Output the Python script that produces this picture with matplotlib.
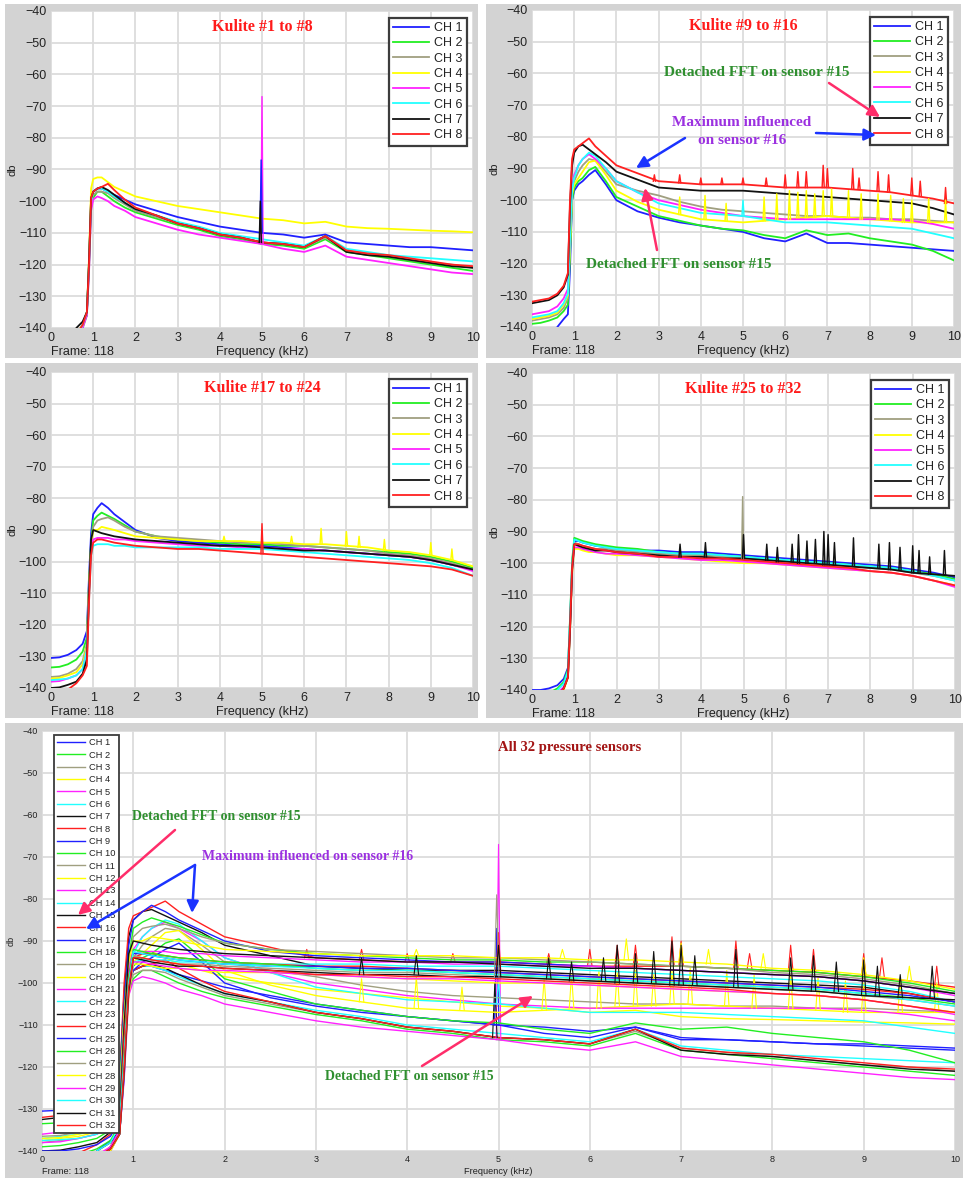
import numpy as np
import matplotlib
matplotlib.use('Agg')
import matplotlib.pyplot as plt
from matplotlib.patches import Rectangle, FancyArrowPatch

plt.rcParams['font.family'] = ['Liberation Sans', 'DejaVu Sans']

W, H = 963, 1178

# ---------------- data ----------------
freq_khz = [0, 0.2, 0.4, 0.6, 0.75, 0.85, 0.9, 0.95, 1.0, 1.1, 1.2, 1.35, 1.5, 1.75,
            2, 2.5, 3, 3.5, 4, 4.5, 5, 5.5, 6, 6.5, 7, 7.5, 8, 8.5, 9, 9.5, 10]

kulite_01_08 = [
    [-150, -150, -150, -143, -139, -136, -120, -100, -97, -96, -96, -97, -98, -99.5, -101, -103, -105, -106.5, -108, -109, -110, -110.5, -111.5, -110.5, -113, -113.5, -114, -114.5, -114.5, -115, -115.5],
    [-150, -150, -150, -143, -140, -136, -122, -102, -99, -97, -97, -98.5, -100, -102, -103.5, -105.5, -107.5, -109, -111, -112, -113.5, -114, -115, -112, -116, -117, -118, -119, -120, -121, -122],
    [-150, -150, -150, -142, -139, -135, -121, -101, -98, -97, -97, -97.5, -99, -101, -103, -105, -107, -108.5, -110.5, -111.5, -113, -113.5, -114.5, -111.5, -115.5, -116.5, -117.5, -118.5, -119.5, -120, -121],
    [-150, -150, -150, -142, -139, -135, -118, -96, -93, -92.5, -92.5, -94, -95.5, -97, -98.5, -100, -101.5, -102.5, -103.5, -104.5, -105.5, -106, -107, -106.5, -108, -108.5, -108.7, -109, -109.3, -109.5, -109.8],
    [-150, -150, -150, -143, -140, -136, -123, -103, -99.5, -98.5, -99, -100, -101.5, -103, -105, -107, -109, -110.5, -111.5, -112.5, -113.5, -115, -116, -114, -117.5, -118.5, -119.5, -120.5, -121.5, -122.5, -123],
    [-150, -150, -150, -143, -139, -135, -120, -100, -97, -96, -96, -97, -98.5, -100.5, -102.5, -104.5, -106.5, -108, -110, -111, -112, -113, -114, -111, -115, -116, -117, -117.5, -118, -118.5, -119],
    [-150, -150, -150, -140, -138, -135, -119, -99, -97, -96, -95.5, -96.5, -98, -100.5, -102.5, -104.5, -107, -108.5, -110.5, -111.5, -113, -113.5, -114.5, -111, -116, -117, -117.5, -118.5, -119.5, -120.5, -121],
    [-150, -150, -150, -142, -139, -135, -120, -99, -97, -96, -95.5, -94.5, -96.5, -99.5, -102, -104.5, -107, -108.5, -110.5, -111.5, -113, -113.5, -114.5, -111, -115.5, -116.5, -117, -118, -119, -120, -120.5],
]

kulite_09_16 = [
    [-150, -150, -150, -140, -137.5, -136, -122, -100, -97, -95, -94, -92, -90.5, -95, -100, -103.5, -105.5, -107, -108, -109, -110, -112, -113, -110.5, -113.5, -113.5, -114, -114.5, -115, -115.5, -116],
    [-139, -138.7, -138, -137, -135, -133, -118, -100, -96, -94, -93, -90.5, -89.5, -94, -99, -102, -105, -106.5, -108, -109, -109.5, -111, -112, -109.5, -111, -110.5, -112, -113, -114, -116, -119],
    [-138, -137.5, -137, -136, -134, -131, -113, -98, -94, -91, -89, -87, -87.5, -91, -95, -97, -98.5, -100.5, -102, -103, -103.5, -104, -104.5, -105, -105, -105.5, -105.5, -106, -106, -106.5, -107],
    [-137.5, -137, -136.5, -135.5, -133, -130, -115, -98, -95, -93, -91, -88, -87.5, -92, -97, -100.5, -103, -104.5, -106, -106.5, -107, -106.5, -106, -105.5, -105, -105.5, -106, -106.5, -107, -107, -107],
    [-136, -135.5, -135, -133.5, -131, -128, -110, -96, -92, -89, -87, -85.5, -87, -90, -94, -97.5, -100, -101.5, -103, -104, -105, -105.5, -106, -106, -106, -106, -106, -106, -106.5, -107.5, -109],
    [-137, -136.5, -136, -135, -132.5, -129.5, -112, -97, -93, -89, -87, -85, -86, -90, -94, -97.5, -101, -102.5, -104, -104.5, -105, -106, -107, -107, -107, -107.5, -108, -108.5, -109, -110.5, -112],
    [-132.5, -132, -131.5, -130, -127.5, -123.5, -102, -89, -85, -83, -82.5, -84, -85.5, -88, -91, -93.5, -96, -96.5, -97, -97, -97, -97.5, -98, -98.5, -99, -99.5, -100, -100.5, -101, -102.5, -104.5],
    [-132, -131.5, -131, -129.5, -127, -123, -100, -87, -84, -83, -82, -80.5, -83, -86, -89, -91.5, -94, -94.5, -95, -95, -95, -95.5, -96, -96, -96, -96.5, -97, -97.5, -98.5, -99.5, -101],
]

kulite_17_24 = [
    [-130.5, -130.3, -129.5, -128, -126, -122, -105, -91, -85, -83, -81.5, -83, -85, -87.5, -90, -92.5, -93.5, -94, -94.5, -95, -95, -95.5, -96, -96.5, -97, -97.5, -98, -98.5, -99.5, -101, -102.5],
    [-133.5, -133.3, -132.5, -131, -128.5, -124, -107, -94, -87, -85.5, -84.5, -85.5, -86.5, -88.5, -90.5, -92, -93, -93.5, -94, -94.5, -94.5, -95, -95, -95.5, -96, -96.5, -97, -97.5, -98.5, -100, -102],
    [-136.5, -136.3, -135.5, -134, -131.5, -126, -108, -95, -89, -87, -86.5, -86, -87, -89, -90.5, -92, -92.5, -93, -93.5, -94, -94, -94.5, -95, -95.5, -96, -96.5, -97.5, -98, -99, -100.5, -102.5],
    [-137, -136.8, -136, -135, -132.5, -127, -108, -95, -90, -90, -89, -89.5, -90, -91, -92, -92.5, -93, -93.5, -93.5, -93.5, -94, -94, -94.5, -94.5, -95, -95.5, -96.5, -97, -98, -99.5, -101.5],
    [-138, -137.8, -137, -136, -134, -128, -110, -97, -93, -92.5, -92.5, -92.5, -93, -93, -93.5, -94, -94.5, -95, -95, -95.5, -95.5, -96, -96, -96.5, -97, -97.5, -98, -98.5, -99.5, -101, -103],
    [-137.5, -137.3, -137, -136, -134, -128, -112, -98, -95, -94.5, -94.5, -94.5, -95, -95, -95.5, -95.5, -95.5, -95.5, -96, -96, -96, -96.5, -97, -97.5, -98, -98.5, -99, -99.5, -100.5, -102, -104.5],
    [-140, -139.8, -139, -138, -135.5, -131, -110, -93, -90, -90.5, -91, -91.5, -92, -92.5, -93, -93.5, -94, -94.5, -95, -95, -95.5, -96, -96.5, -96.5, -97, -97.5, -98, -98.5, -99.5, -101, -102.5],
    [-150, -150, -140.5, -138.5, -136, -133, -113, -98, -94, -93, -93, -93.5, -94, -94.5, -95, -95.5, -96, -96, -96.5, -97, -97.5, -98, -98.5, -99, -99.5, -100, -100.5, -101, -101.5, -102.5, -104.5],
]

kulite_25_32 = [
    [-140, -140, -139.5, -138.5, -136.5, -133, -118, -100, -93, -93, -93.5, -94, -94.5, -95, -95.5, -96, -96, -96.5, -96.5, -97, -97.5, -98, -98.5, -99, -99.5, -100, -100.5, -101, -102, -103, -104.5],
    [-150, -150, -141, -139.5, -137.5, -133.5, -117, -99, -92, -92.5, -93, -93.5, -94, -94.5, -95, -95.5, -96.5, -97, -97, -97.5, -98, -98.5, -99, -99.5, -100, -100.5, -101, -101.5, -102.5, -103.5, -105],
    [-150, -150, -150, -142, -139.5, -135.5, -120, -101, -93.5, -94, -94.5, -95, -95.5, -95.5, -96, -96.5, -97, -97.5, -97.5, -98, -98.5, -99, -99.5, -100, -100.5, -101, -101.5, -102, -103, -104, -105.5],
    [-150, -150, -150, -142, -140, -136, -121, -103, -95.5, -95.5, -96, -96.5, -96.5, -97, -97.5, -97.5, -98, -98.5, -99, -99.5, -100, -100, -100.5, -101, -101.5, -102, -102.5, -103, -104, -105.5, -107],
    [-150, -150, -150, -141, -139, -135, -120, -102, -95, -95, -95.5, -96, -96.5, -97, -97, -97.5, -98, -98.5, -99, -99, -99.5, -100, -100.5, -101, -101.5, -102, -102.5, -103, -104, -105.5, -107.5],
    [-150, -150, -150, -140, -138, -134, -118, -100, -92.5, -93, -93.5, -94, -94.5, -95, -95.5, -96, -96.5, -97, -97, -97.5, -98, -98.5, -99, -99.5, -100, -100.5, -101, -101.5, -102.5, -104, -105.5],
    [-150, -150, -150, -142, -139.5, -136, -121, -102, -94, -94.5, -95, -95.5, -96, -96, -96.5, -97, -97.5, -98, -98, -98.5, -98.5, -99, -99.5, -100, -100.5, -101, -101.5, -102, -103, -103.5, -104],
    [-150, -150, -150, -142, -139.5, -136, -120, -101, -94, -94, -94.5, -95, -95.5, -96, -96.5, -97, -98, -98, -98.5, -98.5, -99, -99.5, -100, -100.5, -101, -101.5, -102.5, -103, -104, -105.5, -107],
]

# narrow tonal peaks: (channel index within group, frequency kHz, peak dB)
spikes_01_08 = [(4, 5.0, -67), (0, 4.98, -87), (6, 4.96, -100)]
spikes_09_16 = [(7, 2.9, -92), (7, 3.5, -92), (7, 4.0, -93), (7, 4.5, -93), (7, 5.0, -93),
                (7, 5.55, -93), (7, 6.0, -92), (7, 6.3, -91), (7, 6.5, -91), (7, 6.9, -89),
                (7, 7.0, -90), (7, 7.6, -90), (7, 7.75, -93), (7, 8.2, -91), (7, 8.45, -92),
                (7, 9.0, -93), (7, 9.2, -94), (7, 9.8, -96),
                (3, 3.5, -99), (3, 4.1, -98.5), (3, 4.6, -101), (3, 5.5, -99), (3, 5.8, -98),
                (3, 6.1, -97), (3, 6.3, -97.5), (3, 6.5, -97), (3, 6.7, -98), (3, 6.9, -97),
                (3, 7.1, -96.5), (3, 7.5, -97), (3, 7.8, -98), (3, 8.2, -98), (3, 8.5, -98.5),
                (3, 8.8, -99.5), (3, 9.0, -100), (3, 9.4, -99.5), (3, 9.8, -100),
                (5, 5.0, -100)]
spikes_17_24 = [(7, 5.0, -88), (3, 4.1, -92), (3, 5.7, -92), (3, 6.4, -89.5), (3, 7.0, -90.5),
                (3, 7.3, -92), (3, 7.9, -93), (3, 9.0, -94), (3, 9.5, -96)]
spikes_25_32 = [(2, 4.98, -79), (6, 5.0, -91), (6, 3.5, -94), (6, 4.1, -93.5), (6, 5.55, -94),
                (6, 5.8, -95), (6, 6.15, -94), (6, 6.3, -91), (6, 6.5, -93), (6, 6.7, -92.5),
                (6, 6.9, -90), (6, 7.0, -91), (6, 7.15, -93.5), (6, 7.6, -92), (6, 8.2, -94),
                (6, 8.45, -93.5), (6, 8.7, -95), (6, 9.0, -94.5), (6, 9.15, -96), (6, 9.4, -98),
                (6, 9.75, -96)]

channel_colors = ['#2020ff', '#22ee22', '#a09f80', '#ffff00', '#ff22ff', '#22ffff', '#111111', '#ff2020']
labels_8 = ['CH 1', 'CH 2', 'CH 3', 'CH 4', 'CH 5', 'CH 6', 'CH 7', 'CH 8']
labels_32 = ['CH %d' % (i + 1) for i in range(32)]
y_ticks = [-140, -130, -120, -110, -100, -90, -80, -70, -60, -50, -40]
x_ticks = [0, 1, 2, 3, 4, 5, 6, 7, 8, 9, 10]

# ---------------- figure ----------------
fig = plt.figure(figsize=(W / 100, H / 100), dpi=100)
fig.patch.set_facecolor('white')

GREY = '#d3d3d3'


def fx(x):
    return x / W


def fy(y):
    return 1 - y / H


def grey_box(l, t, r, b):
    fig.add_artist(Rectangle((fx(l), fy(b)), (r - l) / W, (b - t) / H,
                             transform=fig.transFigure, facecolor=GREY,
                             edgecolor='none', zorder=-5))


def make_axes(l, t, r, b, fs):
    ax = fig.add_axes([fx(l), fy(b), (r - l) / W, (b - t) / H])
    ax.set_facecolor('white')
    ax.set_xlim(0, 10)
    ax.set_ylim(-140, -40)
    ax.set_xticks(x_ticks)
    ax.set_yticks(y_ticks)
    ax.set_xticklabels([str(v) for v in x_ticks])
    ax.set_yticklabels([('\u2212%d' % -v) for v in y_ticks])
    ax.tick_params(length=0, labelsize=fs, pad=3, colors='#222222')
    ax.grid(True, color='#dcdcdc', lw=1.3)
    ax.set_axisbelow(True)
    for s in ax.spines.values():
        s.set_visible(False)
    return ax


def draw_group(ax, series, spikes, colors, labels, lw):
    handles = []
    for i, vals in enumerate(series):
        h, = ax.plot(freq_khz, vals, color=colors[i], lw=lw, label=labels[i])
        handles.append(h)
    for ch, f, peak in spikes:
        k = int(np.argmin(np.abs(np.array(freq_khz) - f)))
        base = series[ch][k]
        ax.plot([f - 0.025, f, f + 0.025], [base, peak, base], color=colors[ch], lw=lw * 0.8)
    return handles


def legend(ax, handles, labels, loc, anchor, fs, spacing, hlen, lw):
    lg = ax.legend(handles, labels, loc=loc, bbox_to_anchor=anchor, fontsize=fs,
                   labelspacing=spacing, handlelength=hlen, handletextpad=0.4,
                   borderpad=0.35, borderaxespad=0, fancybox=False, framealpha=1,
                   edgecolor='#3c3c3c')
    lg.get_frame().set_linewidth(lw)
    for t in lg.get_texts():
        t.set_color('#222222')
    return lg


def footer(l, r, ybase, fs):
    fig.text(fx(l), fy(ybase), 'Frame: 118', fontsize=fs, color='#222222', va='center', ha='left')
    fig.text(fx((l + r) / 2), fy(ybase), 'Frequency (kHz)', fontsize=fs, color='#222222',
             va='center', ha='center')


def db_label(x, y, fs):
    fig.text(fx(x), fy(y), 'db', fontsize=fs, rotation=90, color='#222222', va='center', ha='center')


SERIF = ['Liberation Serif', 'DejaVu Serif']

panels = [
    ((5, 4, 478, 358), (51, 11, 473, 328), kulite_01_08, spikes_01_08, 'Kulite #1 to #8'),
    ((486, 4, 961, 358), (532, 10, 954, 327), kulite_09_16, spikes_09_16, 'Kulite #9 to #16'),
    ((5, 363, 478, 718), (51, 372, 473, 688), kulite_17_24, spikes_17_24, 'Kulite #17 to #24'),
    ((486, 363, 961, 718), (532, 373, 955, 690), kulite_25_32, spikes_25_32, 'Kulite #25 to #32'),
]

for gbox, abox, series, spikes, title in panels:
    grey_box(*gbox)
    ax = make_axes(*abox, fs=9)
    hs = draw_group(ax, series, spikes, channel_colors, labels_8, 1.3)
    l, t, r, b = abox
    legend(ax, hs, labels_8, 'upper right', ((r - 6 - l) / (r - l), 1 - 6.5 / (b - t)), 9, 0.27, 2.9, 1.6)
    ax.text(0.5, 0.95, title, transform=ax.transAxes, ha='center', va='center',
            fontsize=11.5, fontweight='bold', color='#ff1a1a', family=SERIF)
    footer(l, r, b + 24, 9)
    db_label(gbox[0] + 8, (t + b) / 2, 8)

# bottom: all 32 sensors
grey_box(5, 723, 963, 1178)
axb = make_axes(42, 731, 955, 1151, fs=6.5)
all_series = kulite_01_08 + kulite_09_16 + kulite_17_24 + kulite_25_32
all_colors = channel_colors * 4
handles = []
for g, (series, spikes) in enumerate([(kulite_01_08, spikes_01_08), (kulite_09_16, spikes_09_16),
                                      (kulite_17_24, spikes_17_24), (kulite_25_32, spikes_25_32)]):
    handles += draw_group(axb, series, spikes, channel_colors, labels_32[8 * g:8 * g + 8], 1.0)
legend(axb, handles, labels_32, 'upper left', (12 / 913, 1 - 4 / 420), 6.7, 0.36, 3.0, 1.3)
footer(42, 955, 1171, 6.7)
db_label(11, 941, 6.5)
axb.text(fx(570) , fy(747), 'All 32 pressure sensors', transform=fig.transFigure, ha='center', va='center',
         fontsize=10.5, fontweight='bold', color='#a31515', family=SERIF)

GREEN = '#2f8f2f'
PURPLE = '#9b30e0'
PINK = '#ff2d6a'
BLUE = '#1a33ff'


def ftext(x, y, s, color, fs):
    fig.text(fx(x), fy(y), s, ha='center', va='center', fontsize=fs, fontweight='bold',
             color=color, family=SERIF)


def farrow(x0, y0, x1, y1, color):
    fig.add_artist(FancyArrowPatch((fx(x0), fy(y0)), (fx(x1), fy(y1)), transform=fig.transFigure,
                                   arrowstyle='-|>,head_length=7,head_width=3.5', color=color,
                                   lw=1.8, shrinkA=0, shrinkB=0, zorder=10))


# annotations on "Kulite #9 to #16"
ftext(757, 72, 'Detached FFT on sensor #15', GREEN, 11)
farrow(829, 83, 880, 117, PINK)
ftext(742, 123, 'Maximum influenced', PURPLE, 11)
ftext(742, 141, 'on sensor #16', PURPLE, 11)
farrow(816, 133, 876, 135, BLUE)
farrow(685, 138, 636, 168, BLUE)
farrow(657, 250, 645, 188, PINK)
ftext(679, 264, 'Detached FFT on sensor #15', GREEN, 11)

# annotations on the all-sensor panel
ftext(216, 817, 'Detached FFT on sensor #15', GREEN, 10)
farrow(175, 830, 78, 915, PINK)
ftext(308, 857, 'Maximum influenced on sensor #16', PURPLE, 10)
farrow(195, 865, 86, 929, BLUE)
farrow(195, 865, 192, 913, BLUE)
ftext(409, 1077, 'Detached FFT on sensor #15', GREEN, 10)
farrow(422, 1066, 533, 996, PINK)

fig.savefig('out.png', dpi=100, facecolor='white')
